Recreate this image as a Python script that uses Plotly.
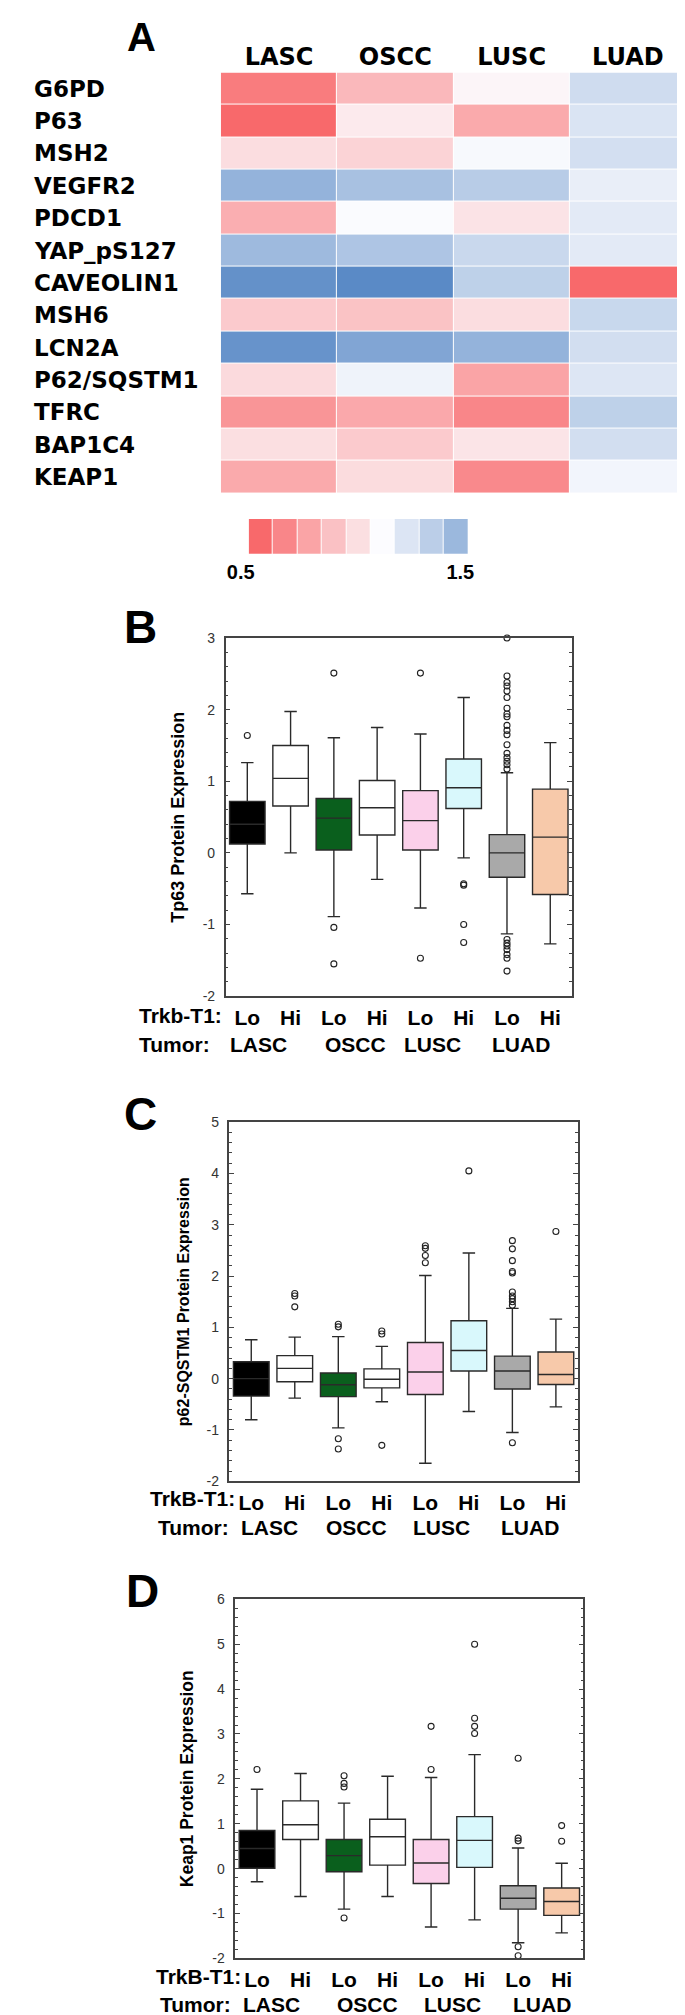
import plotly.graph_objects as go

W, H = 685, 2015


def fx(p):
    return p / W


def fy(p):
    return 1 - p / H


# ---------------- Panel A data ----------------
genes = ["G6PD", "P63", "MSH2", "VEGFR2", "PDCD1", "YAP_pS127", "CAVEOLIN1",
         "MSH6", "LCN2A", "P62/SQSTM1", "TFRC", "BAP1C4", "KEAP1"]
tumors = ["LASC", "OSCC", "LUSC", "LUAD"]
ratio = [
    [0.565, 0.77, 0.976, 1.14],
    [0.50, 0.94, 0.72, 1.105],
    [0.895, 0.86, 1.015, 1.127],
    [1.32, 1.26, 1.21, 1.06],
    [0.735, 1.005, 0.915, 1.077],
    [1.29, 1.24, 1.157, 1.077],
    [1.47, 1.50, 1.19, 0.50],
    [0.83, 0.805, 0.895, 1.16],
    [1.46, 1.38, 1.32, 1.13],
    [0.884, 1.04, 0.70, 1.096],
    [0.65, 0.715, 0.60, 1.19],
    [0.90, 0.83, 0.92, 1.13],
    [0.72, 0.89, 0.61, 1.03],
]
legend_steps = [0.5, 0.6, 0.7, 0.8, 0.9, 1.0, 1.1, 1.2, 1.3]
legend_edges = [0.5, 0.6111, 0.7222, 0.8333, 0.9444, 1.0556, 1.1667, 1.2778, 1.3889, 1.5]
legend_tickvals = [0.5, 1.5]
legend_ticktext = ["0.5", "1.5"]

# ---------------- Box plot data ----------------
groups = ["LASC Lo", "LASC Hi", "OSCC Lo", "OSCC Hi",
          "LUSC Lo", "LUSC Hi", "LUAD Lo", "LUAD Hi"]
group_ticks = ["Lo", "Hi", "Lo", "Hi", "Lo", "Hi", "Lo", "Hi"]
tumor_names = ["LASC", "OSCC", "LUSC", "LUAD"]

tp63_q3 = [0.72, 1.50, 0.76, 1.01, 0.87, 1.31, 0.255, 0.89]
tp63_med = [0.40, 1.04, 0.485, 0.63, 0.45, 0.91, 0.0, 0.22]
tp63_q1 = [0.125, 0.655, 0.04, 0.25, 0.04, 0.62, -0.34, -0.58]
tp63_hi = [1.26, 1.975, 1.607, 1.75, 1.66, 2.17, 1.12, 1.54]
tp63_lo = [-0.57, 0.0, -0.89, -0.37, -0.77, -0.07, -1.13, -1.27]
tp63_out = [[1.64], [], [2.51, -1.04, -1.55], [], [2.51, -1.47],
            [-0.43, -0.45, -1.0, -1.25],
            [3.0, 2.47, 2.38, 2.33, 2.26, 2.17, 2.02, 1.94, 1.9, 1.78, 1.71, 1.65,
             1.51, 1.39, 1.33, 1.28, 1.23, 1.17,
             -1.21, -1.26, -1.30, -1.35, -1.42, -1.47, -1.65],
            []]

p62_q3 = [0.33, 0.45, 0.11, 0.19, 0.705, 1.13, 0.44, 0.52]
p62_med = [0.0, 0.20, -0.12, -0.01, 0.13, 0.55, 0.15, 0.08]
p62_q1 = [-0.34, -0.06, -0.35, -0.18, -0.31, 0.15, -0.20, -0.115]
p62_hi = [0.76, 0.81, 0.82, 0.63, 2.01, 2.45, 1.37, 1.16]
p62_lo = [-0.80, -0.38, -0.96, -0.45, -1.65, -0.64, -1.05, -0.55]
p62_out = [[], [1.66, 1.61, 1.40], [1.06, 1.01, -1.17, -1.37], [0.93, 0.87, -1.30],
           [2.59, 2.54, 2.40, 2.26], [4.05],
           [2.69, 2.53, 2.30, 2.09, 2.06, 1.69, 1.61, 1.56, 1.50, 1.43, -1.25],
           [2.87]]

keap_q3 = [0.85, 1.51, 0.65, 1.10, 0.65, 1.16, -0.38, -0.43]
keap_med = [0.45, 0.98, 0.29, 0.71, 0.125, 0.63, -0.66, -0.73]
keap_q1 = [0.01, 0.65, -0.07, 0.08, -0.33, 0.03, -0.90, -1.04]
keap_hi = [1.77, 2.12, 1.46, 2.06, 2.03, 2.54, 0.46, 0.12]
keap_lo = [-0.29, -0.62, -0.90, -0.62, -1.30, -1.14, -1.65, -1.43]
keap_out = [[2.21], [], [2.07, 1.90, 1.82, -1.10], [], [3.17, 2.21],
            [5.0, 3.35, 3.17, 3.01], [2.46, 0.68, 0.62, -1.74, -1.94], [0.96, 0.61]]

fills = ["#000000", "#ffffff", "#0a5f1d", "#ffffff",
         "#fbd0ea", "#d9f8fc", "#a9a9a9", "#f7c9aa"]

ARIAL = "Liberation Sans, Arial, sans-serif"
VERD = "DejaVu Sans, Verdana, sans-serif"
NARROW = "Liberation Sans Narrow, Liberation Sans, sans-serif"

fig = go.Figure()

# ---------------- Panel A heatmap ----------------
fig.add_trace(go.Heatmap(
    z=ratio, x=tumors, y=genes,
    colorscale=[[0, "#F8696B"], [0.5, "#FCFCFF"], [1, "#5A8AC6"]],
    zmin=0.5, zmax=1.5, showscale=False, xgap=1, ygap=1,
    xaxis="x", yaxis="y", hoverinfo="skip"))

fig.add_trace(go.Heatmap(
    z=[legend_steps], x=legend_edges, y=[0, 1],
    colorscale=[[0, "#F8696B"], [0.5, "#FCFCFF"], [1, "#5A8AC6"]],
    zmin=0.5, zmax=1.5, showscale=False, xgap=1,
    xaxis="x2", yaxis="y2", hoverinfo="skip"))

layout = dict(
    width=W, height=H, margin=dict(l=0, r=0, t=0, b=0),
    paper_bgcolor="white", plot_bgcolor="white", showlegend=False,
    boxmode="overlay",
    xaxis=dict(domain=[fx(199), fx(684)], side="top", showgrid=False, zeroline=False,
               ticks="", tickfont=dict(family=VERD, size=24, color="black", weight="bold"),
               ticklabelstandoff=2, anchor="y"),
    yaxis=dict(domain=[fy(481), fy(57)], autorange="reversed", showticklabels=False,
               showgrid=False, zeroline=False, ticks="", anchor="x"),
    xaxis2=dict(domain=[fx(228), fx(457)], range=[0.5, 1.5], showgrid=False, zeroline=False,
                ticks="", tickvals=legend_tickvals, ticktext=legend_ticktext,
                ticklabelshift=-8, ticklabelstandoff=4,
                tickfont=dict(family=NARROW, size=20, color="black", weight="bold"),
                anchor="y2"),
    yaxis2=dict(domain=[fy(542), fy(507)], range=[0, 1], visible=False, anchor="x2"),
)

annotations = []
for g in genes:
    annotations.append(dict(x=fx(2), xref="paper", y=g, yref="y", xanchor="left",
                            yanchor="middle", text=g, showarrow=False,
                            font=dict(family=VERD, size=23, color="black", weight="bold")))

letters = [("A", 116, 21, 40), ("B", 115, 616, 46), ("C", 115, 1107, 46), ("D", 117, 1588, 46)]
for t, x, y, s in letters:
    annotations.append(dict(x=fx(x), y=fy(y), xref="paper", yref="paper", text=t,
                            showarrow=False, xanchor="center", yanchor="middle",
                            font=dict(family=ARIAL, size=s, color="black", weight="bold")))

panels = [
    dict(ax="3", box=(204, 565, 627, 988), rng=[-2, 3], vals=[-2, -1, 0, 1, 2, 3],
         q1=tp63_q1, med=tp63_med, q3=tp63_q3, lo=tp63_lo, hi=tp63_hi, out=tp63_out,
         title="Tp63 Protein Expression", tsize=18, tx=154,
         lab1="Trkb-T1:", lab1x=112, lab1y=1007, lab2x=112, lab2y=1037,
         tumx=[0.25, 2.5, 4.27, 6.33]),
    dict(ax="4", box=(208, 571, 1115, 1477), rng=[-2, 5], vals=[-2, -1, 0, 1, 2, 3, 4, 5],
         q1=p62_q1, med=p62_med, q3=p62_q3, lo=p62_lo, hi=p62_hi, out=p62_out,
         title="p62-SQSTM1 Protein Expression", tsize=16, tx=160,
         lab1="TrkB-T1:", lab1x=123, lab1y=1494, lab2x=131, lab2y=1524,
         tumx=[0.42, 2.42, 4.37, 6.4]),
    dict(ax="5", box=(214, 577, 1596, 1958), rng=[-2, 6], vals=[-2, -1, 0, 1, 2, 3, 4, 5, 6],
         q1=keap_q1, med=keap_med, q3=keap_q3, lo=keap_lo, hi=keap_hi, out=keap_out,
         title="Keap1 Protein Expression", tsize=17.5, tx=164,
         lab1="TrkB-T1:", lab1x=129, lab1y=1976, lab2x=133, lab2y=2004,
         tumx=[0.34, 2.54, 4.5, 6.55]),
]

LBL = 21
for p in panels:
    a = p["ax"]
    x0, x1, y0, y1 = p["box"]
    xa, ya = "x" + a, "y" + a
    for i, g in enumerate(groups):
        fig.add_trace(go.Box(
            x=[g], q1=[p["q1"][i]], median=[p["med"][i]], q3=[p["q3"][i]],
            lowerfence=[p["lo"][i]], upperfence=[p["hi"][i]],
            fillcolor=fills[i], line=dict(color="#2a2a2a", width=1.4),
            whiskerwidth=0.35, width=0.82, boxpoints=False,
            xaxis=xa, yaxis=ya, hoverinfo="skip"))
        if p["out"][i]:
            fig.add_trace(go.Scatter(
                x=[g] * len(p["out"][i]), y=p["out"][i], mode="markers",
                marker=dict(symbol="circle-open", size=6, color="#222222",
                            line=dict(width=1.1)),
                cliponaxis=False, xaxis=xa, yaxis=ya, hoverinfo="skip"))
    layout["xaxis" + a] = dict(
        domain=[fx(x0), fx(x1)], anchor=ya, type="category",
        categoryorder="array", categoryarray=groups, range=[-0.5, 7.5],
        tickvals=groups, ticktext=group_ticks, ticks="",
        showline=True, mirror=True, linecolor="#444444", linewidth=1.5,
        showgrid=False, zeroline=False, ticklabelstandoff=2,
        tickfont=dict(family=ARIAL, size=LBL, color="black", weight="bold"))
    layout["yaxis" + a] = dict(
        domain=[fy(y1), fy(y0)], anchor=xa, range=p["rng"],
        tickvals=p["vals"], ticktext=[str(v) for v in p["vals"]],
        ticks="inside", ticklen=5, tickwidth=1, tickcolor="#444444",
        minor=dict(ticks="inside", ticklen=3, dtick=0.2, tickcolor="#444444", tickwidth=1),
        showline=True, mirror="allticks", linecolor="#444444", linewidth=1.5,
        showgrid=False, zeroline=False, ticklabelstandoff=6,
        tickfont=dict(family=ARIAL, size=14, color="#333333"))
    annotations.append(dict(x=fx(p["tx"]), y=0.5, xref="paper", yref=ya + " domain",
                            text=p["title"], textangle=-90, showarrow=False,
                            xanchor="center", yanchor="middle",
                            font=dict(family=ARIAL, size=p["tsize"], color="black",
                                      weight="bold")))
    annotations.append(dict(x=fx(p["lab1x"]), y=fy(p["lab1y"]), xref="paper", yref="paper",
                            text=p["lab1"], showarrow=False, xanchor="left",
                            yanchor="middle",
                            font=dict(family=ARIAL, size=LBL, color="black", weight="bold")))
    annotations.append(dict(x=fx(p["lab2x"]), y=fy(p["lab2y"]), xref="paper", yref="paper",
                            text="Tumor:", showarrow=False, xanchor="left",
                            yanchor="middle",
                            font=dict(family=ARIAL, size=LBL, color="black", weight="bold")))
    for tx, tn in zip(p["tumx"], tumor_names):
        annotations.append(dict(x=tx, xref=xa, y=fy(p["lab2y"]), yref="paper",
                                text=tn, showarrow=False, xanchor="center",
                                yanchor="middle",
                                font=dict(family=ARIAL, size=LBL, color="black",
                                          weight="bold")))

layout["annotations"] = annotations
fig.update_layout(**layout)
fig.write_html("out.html")
